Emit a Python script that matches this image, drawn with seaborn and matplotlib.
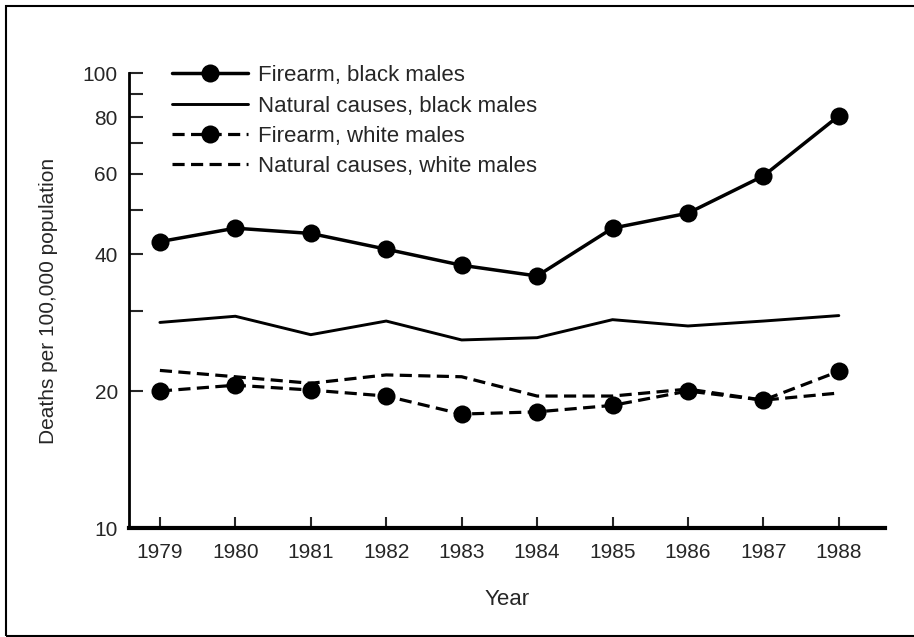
import matplotlib
matplotlib.use("Agg")
import matplotlib.pyplot as plt
from matplotlib.patches import Rectangle
from matplotlib.ticker import FixedLocator, NullFormatter
import seaborn as sns


years = [1979, 1980, 1981, 1982, 1983, 1984, 1985, 1986, 1987, 1988]

firearm_black = [42.6, 45.6, 44.4, 41.0, 37.8, 35.8, 45.6, 49.2, 59.4, 80.5]
natural_black = [28.3, 29.2, 26.6, 28.5, 25.9, 26.2, 28.7, 27.8, 28.5, 29.3]
firearm_white = [20.0, 20.6, 20.1, 19.5, 17.8, 18.0, 18.6, 20.0, 19.1, 22.1]
natural_white = [22.2, 21.5, 20.8, 21.7, 21.5, 19.5, 19.5, 20.2, 19.1, 19.8]

y_major = [10, 20, 40, 60, 80, 100]
y_minor = [30, 50, 70, 90]


def plot_chart():

    sns.set_style("white")
    plt.rcParams["font.family"] = ["Liberation Sans", "DejaVu Sans"]

    fig = plt.figure(figsize=(9.14, 6.37), dpi=100)
    ax = fig.add_axes([0.1411, 0.1711, 0.827, 0.7143])

    dash = (0, (3.8, 2.0))

    sns.lineplot(x=years, y=firearm_black, ax=ax, color="black",
                 linewidth=2.5, marker="o", markersize=13,
                 markeredgewidth=0, label="Firearm, black males")
    sns.lineplot(x=years, y=natural_black, ax=ax, color="black",
                 linewidth=2.1, label="Natural causes, black males")
    sns.lineplot(x=years, y=firearm_white, ax=ax, color="black",
                 linewidth=2.3, linestyle=dash, marker="o", markersize=13,
                 markeredgewidth=0, label="Firearm, white males")
    sns.lineplot(x=years, y=natural_white, ax=ax, color="black",
                 linewidth=2.3, linestyle=dash,
                 label="Natural causes, white males")

    ax.set_yscale("log")
    ax.set_ylim(10, 100)
    ax.set_xlim(1978.59, 1988.61)

    ax.yaxis.set_major_locator(FixedLocator(y_major))
    ax.yaxis.set_minor_locator(FixedLocator(y_minor))
    ax.yaxis.set_minor_formatter(NullFormatter())
    ax.set_yticklabels([str(v) for v in y_major])
    ax.set_xticks(years)
    ax.set_xticklabels([str(y) for y in years])

    ax.tick_params(axis="y", which="both", direction="in", length=10,
                   width=1.5, labelsize=15, pad=8, left=True)
    ax.tick_params(axis="x", direction="in", length=8, width=1.5,
                   labelsize=15, pad=11, bottom=True)

    for side in ["top", "right"]:
        ax.spines[side].set_visible(False)
    ax.spines["left"].set_linewidth(2.0)
    ax.spines["bottom"].set_linewidth(3.0)
    ax.spines["left"].set_color("black")
    ax.spines["bottom"].set_color("black")

    ax.set_xlabel("Year", fontsize=16, labelpad=19)
    ax.set_ylabel("Deaths per 100,000 population", fontsize=15,
                  labelpad=18)

    ax.legend(loc="upper left", bbox_to_anchor=(0.0569, 1.017),
              frameon=False, fontsize=16, handlelength=3.4,
              handletextpad=0.45, labelspacing=0.42, borderpad=0,
              borderaxespad=0)

    fig.patches.append(Rectangle((6 / 914, 1 / 637), 1.2, 630 / 637,
                                 transform=fig.transFigure, fill=False,
                                 edgecolor="black", linewidth=1.5))

    fig.savefig("out.png", dpi=100)
    plt.close(fig)


if __name__ == "__main__":

    plot_chart()
